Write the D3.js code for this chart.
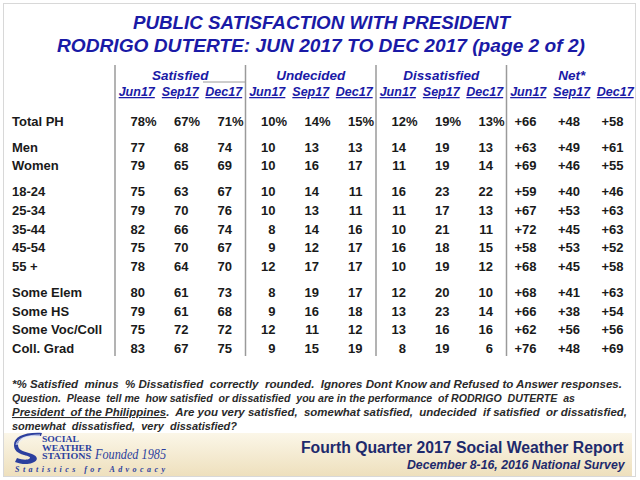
<!DOCTYPE html>
<html>
<head>
<meta charset="utf-8">
<script src="https://cdn.jsdelivr.net/npm/d3@7"></script>
<style>
  body { margin: 0; background: #fff; }
  svg { display: block; font-family: "Liberation Sans", Arial, sans-serif; }
</style>
</head>
<body>
<div id="chart-area"></div>
<script>
// ---- data ----
var rowLabels = ["Total PH", "Men", "Women", "18-24", "25-34", "35-44", "45-54", "55 +",
                 "Some Elem", "Some HS", "Some Voc/Coll", "Coll. Grad"];
var rowGroups = [0, 1, 1, 2, 2, 2, 2, 2, 3, 3, 3, 3];
var groups = ["Satisfied", "Undecided", "Dissatisfied", "Net*"];
var periods = ["Jun17", "Sep17", "Dec17"];

var satisfied = [[78,67,71],[77,68,74],[79,65,69],[75,63,67],[79,70,76],[82,66,74],
                 [75,70,67],[78,64,70],[80,61,73],[79,61,68],[75,72,72],[83,67,75]];
var undecided = [[10,14,15],[10,13,13],[10,16,17],[10,14,11],[10,13,11],[8,14,16],
                 [9,12,17],[12,17,17],[8,19,17],[9,16,18],[12,11,12],[9,15,19]];
var dissatisfied = [[12,19,13],[14,19,13],[11,19,14],[16,23,22],[11,17,13],[10,21,11],
                    [16,18,15],[10,19,12],[12,20,10],[13,23,14],[13,16,16],[8,19,6]];
var net = [[66,48,58],[63,49,61],[69,46,55],[59,40,46],[67,53,63],[72,45,63],
           [58,53,52],[68,45,58],[68,41,63],[66,38,54],[62,56,56],[76,48,69]];

var titleLines = ["PUBLIC SATISFACTION WITH PRESIDENT",
                  "RODRIGO DUTERTE: JUN 2017 TO DEC 2017 (page 2 of 2)"];

// ---- svg ----
var W = 640, H = 480;
var svg = d3.select("#chart-area").append("svg")
    .attr("width", W).attr("height", H);

var blue = "#1a1aa6";
var navy = "#1e2a6c";

// frame
svg.append("rect")
    .attr("x", 3.5).attr("y", 3.5).attr("width", 632).attr("height", 473)
    .attr("fill", "#fff").attr("stroke", "#d8d8d8");

// title
var titleSpans = [{y: 29, x0: 133, w: 377}, {y: 52, x0: 57, w: 528}];
svg.selectAll("text.title").data(titleLines).enter().append("text")
    .attr("class", "title")
    .attr("x", (d, i) => titleSpans[i].x0)
    .attr("y", (d, i) => titleSpans[i].y)
    .attr("textLength", (d, i) => titleSpans[i].w)
    .attr("lengthAdjust", "spacingAndGlyphs")
    .attr("font-size", 19).attr("font-weight", "bold").attr("font-style", "italic")
    .attr("fill", blue)
    .text(d => d);

// ---- scales ----
var x = d3.scaleBand().domain(groups).range([115, 637]);
var xi = d3.scaleBand().domain(periods).range([0, x.bandwidth()]);

var gap = 0.37;
var slot = rowLabels.map((d, i) => i + rowGroups[i] * gap);
var y = d3.scaleLinear()
    .domain([0, d3.max(slot)])
    .range([121, 348]);

// column right edge for a number
function colX(g, p) { return x(g) + xi(p) + 30; }

// ---- separators ----
svg.selectAll("line.sep").data(groups).enter().append("line")
    .attr("class", "sep")
    .attr("x1", d => x(d)).attr("x2", d => x(d))
    .attr("y1", 65).attr("y2", 356)
    .attr("stroke", "#9a9a9a").attr("stroke-width", 1.5);

svg.append("line")
    .attr("x1", x("Satisfied") + 88).attr("x2", x("Undecided"))
    .attr("y1", 82).attr("y2", 82)
    .attr("stroke", "#9a9a9a").attr("stroke-width", 1);

// ---- headers ----
svg.selectAll("text.group").data(groups).enter().append("text")
    .attr("class", "group")
    .attr("x", d => x(d) + x.bandwidth() / 2)
    .attr("y", 80)
    .attr("text-anchor", "middle")
    .attr("font-size", 13.5).attr("font-weight", "bold").attr("font-style", "italic")
    .attr("fill", blue)
    .text(d => d);

groups.forEach(function(g) {
    svg.selectAll(null).data(periods).enter().append("text")
        .attr("x", p => x(g) + xi(p) + xi.bandwidth() / 2)
        .attr("y", 96)
        .attr("text-anchor", "middle")
        .attr("font-size", 12.5).attr("font-weight", "bold").attr("font-style", "italic")
        .attr("text-decoration", "underline")
        .attr("fill", blue)
        .text(p => p);
});

// ---- rows ----
svg.selectAll("text.row").data(rowLabels).enter().append("text")
    .attr("class", "row")
    .attr("x", 12)
    .attr("y", (d, i) => y(slot[i]) + 5)
    .attr("font-size", 13).attr("font-weight", "bold")
    .attr("fill", "#1a1a1a")
    .text(d => d);

var series = [satisfied, undecided, dissatisfied, net];
series.forEach(function(s, gi) {
    var g = groups[gi];
    s.forEach(function(row, ri) {
        var cy = y(slot[ri]) + 5;
        row.forEach(function(v, pi) {
            var cx = colX(g, periods[pi]);
            svg.append("text")
                .attr("x", cx).attr("y", cy)
                .attr("text-anchor", "end")
                .attr("font-size", 13).attr("font-weight", "bold")
                .attr("fill", "#1a1a1a")
                .text(g === "Net*" ? "+" + v : v);
            if (ri === 0 && g !== "Net*") {
                svg.append("text")
                    .attr("x", cx).attr("y", cy)
                    .attr("font-size", 13).attr("font-weight", "bold")
                    .attr("fill", "#1a1a1a")
                    .text("%");
            }
        });
    });
});

// ---- footnote ----
var notes = [
  {y: 388, w: 610, parts: [{t: "*% Satisfied  minus  % Dissatisfied  correctly  rounded.  Ignores Dont Know and Refused to Answer responses."}]},
  {y: 402, w: 563, parts: [{t: "Question.  Please  tell me  how satisfied  or dissatisfied  you are in the performance  of RODRIGO  DUTERTE  as"}]},
  {y: 416, w: 615, parts: [{t: "President  of the Philippines", u: true}, {t: ".  Are you very satisfied,  somewhat satisfied,  undecided  if satisfied  or dissatisfied,"}]},
  {y: 430, w: 225, parts: [{t: "somewhat  dissatisfied,  very  dissatisfied?"}]}
];
notes.forEach(function(n) {
    var t = svg.append("text")
        .attr("x", 12).attr("y", n.y)
        .attr("textLength", n.w).attr("lengthAdjust", "spacingAndGlyphs")
        .attr("font-size", 10.5).attr("font-weight", "bold").attr("font-style", "italic")
        .attr("fill", "#2a2a2a")
        .attr("xml:space", "preserve");
    n.parts.forEach(function(p) {
        t.append("tspan")
            .attr("text-decoration", p.u ? "underline" : null)
            .text(p.t);
    });
});

// ---- bottom band ----
var defs = svg.append("defs");
var grad = defs.append("linearGradient").attr("id", "band")
    .attr("x1", 0).attr("y1", 0).attr("x2", 0).attr("y2", 1);
grad.append("stop").attr("offset", "0%").attr("stop-color", "#fbf6e8");
grad.append("stop").attr("offset", "100%").attr("stop-color", "#eee0bd");
svg.append("rect")
    .attr("x", 4).attr("y", 433).attr("width", 628).attr("height", 43)
    .attr("fill", "url(#band)");

// logo: stylised S with light stripes
var logo = svg.append("g").attr("transform", "translate(14,434)");
logo.append("path")
    .attr("d", "M27,2 C14,0 4,4 4,11 C4,17 12,18 18,20 C24,22 25,27 18,29 C13,31 6,30 1,28 L3,24 C8,26 13,26 15,25 C18,23 14,22 10,21 C3,19 0,16 0,11 C0,3 10,-2 28,-1 Z")
    .attr("fill", "#2c3f9e");
[3, 6, 9].forEach(function(o) {
    logo.append("path")
        .attr("d", "M26," + (o * 0.3) + " C16," + (o * 0.3) + " " + (1 + o * 0.4) + "," + (3 + o * 0.2) + " " + (1 + o * 0.35) + ",11")
        .attr("fill", "none").attr("stroke", "#e8ecf8").attr("stroke-width", 0.7);
});
var serif = "'Liberation Serif', 'DejaVu Serif', serif";
[["SOCIAL", 442, 37], ["WEATHER", 450.5, 50], ["STATIONS", 459, 49]].forEach(function(d) {
    svg.append("text")
        .attr("x", 42).attr("y", d[1])
        .attr("textLength", d[2]).attr("lengthAdjust", "spacingAndGlyphs")
        .attr("font-family", serif).attr("font-size", 7.4).attr("font-weight", "bold")
        .attr("fill", "#2c3f9e")
        .text(d[0]);
});
svg.append("text")
    .attr("x", 95).attr("y", 459)
    .attr("textLength", 71).attr("lengthAdjust", "spacingAndGlyphs")
    .attr("font-family", serif).attr("font-size", 14).attr("font-style", "italic")
    .attr("fill", "#2c3f9e")
    .text("Founded 1985");
svg.append("text")
    .attr("x", 15).attr("y", 472)
    .attr("textLength", 150).attr("lengthAdjust", "spacing")
    .attr("font-family", serif).attr("font-size", 8).attr("font-style", "italic").attr("font-weight", "bold")
    .attr("fill", "#2c3f9e")
    .text("Statistics for Advocacy");

// report title: squeeze horizontally to the width seen in the reference
function fitText(str, x0, yb, width, size, italic) {
    var g = svg.append("g");
    var t = g.append("text")
        .attr("x", 0).attr("y", 0)
        .attr("font-size", size).attr("font-weight", "bold")
        .attr("font-style", italic ? "italic" : null)
        .attr("fill", navy)
        .text(str);
    var k = width / t.node().getComputedTextLength();
    g.attr("transform", "translate(" + x0 + "," + yb + ") scale(" + k + ",1)");
}
fitText("Fourth Quarter 2017 Social Weather Report", 301, 453, 323, 17, false);
fitText("December 8-16, 2016 National Survey", 407, 469, 218, 12, true);
</script>
</body>
</html>
